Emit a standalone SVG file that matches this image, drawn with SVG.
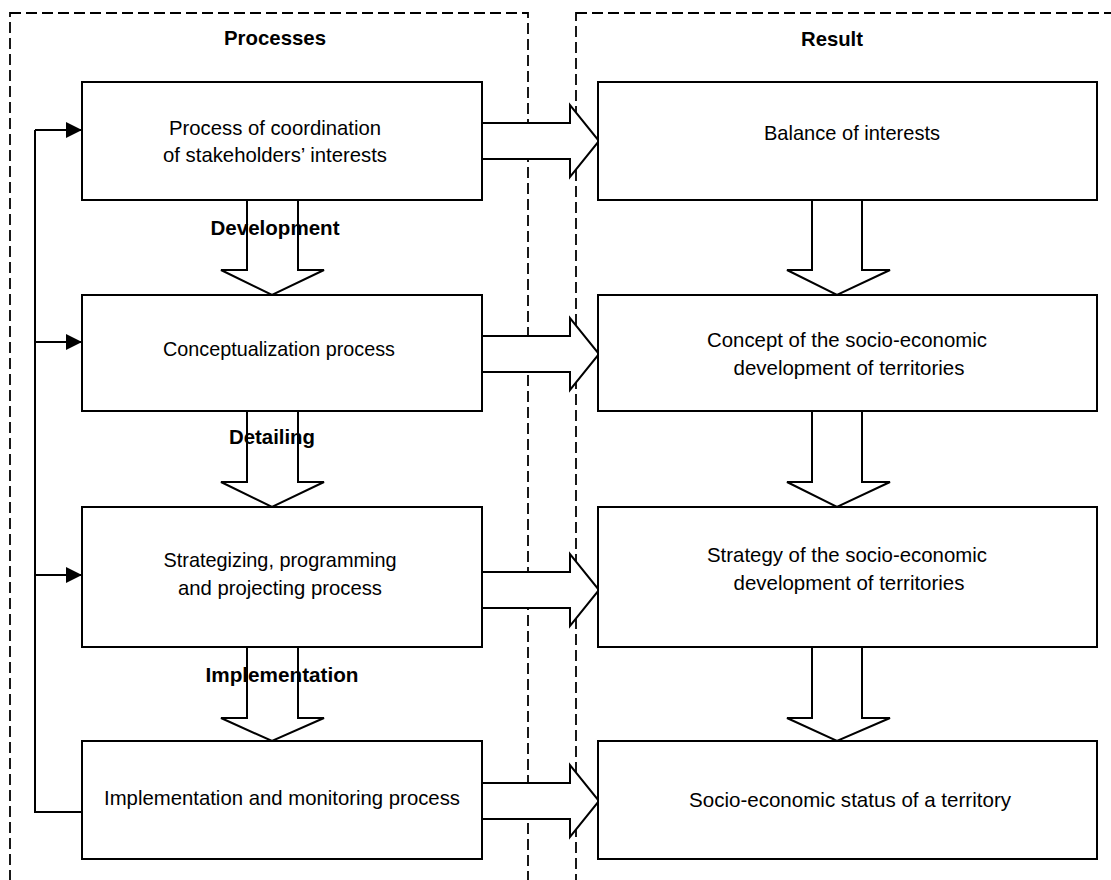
<svg xmlns="http://www.w3.org/2000/svg" width="1111" height="880" viewBox="0 0 1111 880">
<defs>
<style>
.frame{fill:none;stroke:#000;stroke-width:1.8;stroke-dasharray:11 5}
.box{fill:#fff;stroke:#000;stroke-width:2}
.ha{fill:#fff;stroke:#000;stroke-width:2;stroke-linejoin:miter}
.ln{fill:none;stroke:#000;stroke-width:2}
.t{font-family:"Liberation Sans",Arial,sans-serif;font-size:21px;text-anchor:middle;fill:#000}
.b{font-family:"Liberation Sans",Arial,sans-serif;font-size:21px;font-weight:bold;text-anchor:middle;fill:#000}
</style>
<marker id="ah" markerWidth="16" markerHeight="16" viewBox="0 0 16 16" refX="16" refY="8" orient="auto" markerUnits="userSpaceOnUse">
<path d="M0,0 L16,8 L0,16 Z" fill="#000"/>
</marker>
</defs>
<rect width="1111" height="880" fill="#fff"/>
<g id="frames">
<rect class="frame" x="10" y="13" width="518" height="900"/>
<rect class="frame" x="576" y="13" width="560" height="900"/>
<text class="b" x="275" y="45" textLength="102" lengthAdjust="spacingAndGlyphs">Processes</text>
<text class="b" x="832" y="46" textLength="62" lengthAdjust="spacingAndGlyphs">Result</text>
</g>
<g id="connectors">
<path class="ln" d="M35,130 V812 H82"/>
<path class="ln" d="M35,130 H82" marker-end="url(#ah)"/>
<path class="ln" d="M35,342 H82" marker-end="url(#ah)"/>
<path class="ln" d="M35,575 H82" marker-end="url(#ah)"/>
<path class="ha" d="M482,123 H570 V105 L599,141 L570,177 V159 H482"/>
<path class="ha" d="M482,336 H570 V318 L599,354 L570,390 V372 H482"/>
<path class="ha" d="M482,572 H570 V554 L599,590 L570,626 V608 H482"/>
<path class="ha" d="M482,783 H570 V765 L599,801 L570,837 V819 H482"/>
<path class="ha" d="M247,200 V270 H221 L272,295 L324,270 H298 V200"/>
<path class="ha" d="M247,411 V482 H221 L272,507 L324,482 H298 V411"/>
<path class="ha" d="M247,647 V718 H221 L272,741 L324,718 H298 V647"/>
<path class="ha" d="M812,200 V270 H787 L837,295 L890,270 H862 V200"/>
<path class="ha" d="M812,411 V482 H787 L837,507 L890,482 H862 V411"/>
<path class="ha" d="M812,647 V718 H787 L837,741 L890,718 H862 V647"/>
<text class="b" x="275" y="235" textLength="129" lengthAdjust="spacingAndGlyphs">Development</text>
<text class="b" x="272" y="444" textLength="86" lengthAdjust="spacingAndGlyphs">Detailing</text>
<text class="b" x="282" y="682" textLength="153" lengthAdjust="spacingAndGlyphs">Implementation</text>
</g>
<g id="p1"><rect class="box" x="82" y="82" width="400" height="118"/>
<text class="t" x="275" y="135" textLength="212" lengthAdjust="spacingAndGlyphs">Process of coordination</text><text class="t" x="275" y="162" textLength="224" lengthAdjust="spacingAndGlyphs">of stakeholders’ interests</text></g>
<g id="p2"><rect class="box" x="82" y="295" width="400" height="116"/>
<text class="t" x="279" y="356" textLength="232" lengthAdjust="spacingAndGlyphs">Conceptualization process</text></g>
<g id="p3"><rect class="box" x="82" y="507" width="400" height="140"/>
<text class="t" x="280" y="567" textLength="233" lengthAdjust="spacingAndGlyphs">Strategizing, programming</text><text class="t" x="280" y="595" textLength="204" lengthAdjust="spacingAndGlyphs">and projecting process</text></g>
<g id="p4"><rect class="box" x="82" y="741" width="400" height="118"/>
<text class="t" x="282" y="805" textLength="356" lengthAdjust="spacingAndGlyphs">Implementation and monitoring process</text></g>
<g id="r1"><rect class="box" x="598" y="82" width="499" height="118"/>
<text class="t" x="852" y="140" textLength="176" lengthAdjust="spacingAndGlyphs">Balance of interests</text></g>
<g id="r2"><rect class="box" x="598" y="295" width="499" height="116"/>
<text class="t" x="847" y="347" textLength="280" lengthAdjust="spacingAndGlyphs">Concept of the socio-economic</text><text class="t" x="849" y="375" textLength="231" lengthAdjust="spacingAndGlyphs">development of territories</text></g>
<g id="r3"><rect class="box" x="598" y="507" width="499" height="140"/>
<text class="t" x="847" y="562" textLength="280" lengthAdjust="spacingAndGlyphs">Strategy of the socio-economic</text><text class="t" x="849" y="590" textLength="231" lengthAdjust="spacingAndGlyphs">development of territories</text></g>
<g id="r4"><rect class="box" x="598" y="741" width="499" height="118"/>
<text class="t" x="850" y="807" textLength="322" lengthAdjust="spacingAndGlyphs">Socio-economic status of a territory</text></g>
</svg>
